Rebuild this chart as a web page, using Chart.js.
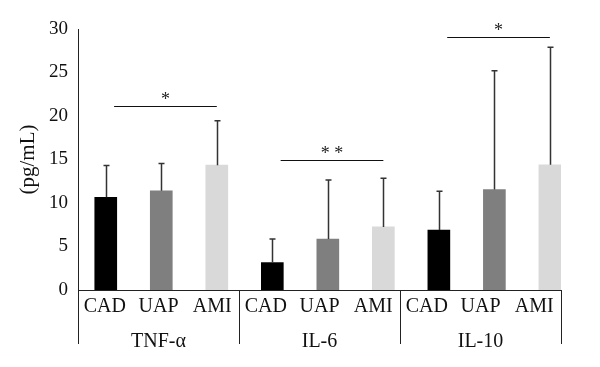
<!DOCTYPE html>
<html>
<head>
<meta charset="utf-8">
<script src="https://cdn.jsdelivr.net/npm/chart.js@4"></script>
<style>
  html, body { margin: 0; padding: 0; background: #fff; }
</style>
</head>
<body>
<canvas id="cytoChart" width="600" height="367"></canvas>
<script>
// DATA
const groups = ['TNF-α', 'IL-6', 'IL-10'];
const subgroups = ['CAD', 'UAP', 'AMI'];
const cadMean = [10.65, 3.15, 6.9];
const uapMean = [11.4, 5.85, 11.55];
const amiMean = [14.35, 7.25, 14.4];
const cadSd = [3.65, 2.7, 4.45];
const uapSd = [3.15, 6.8, 13.65];
const amiSd = [5.1, 5.6, 13.5];
const yTicks = [0, 5, 10, 15, 20, 25, 30];
// significance brackets: from / to bar index, height, label
const sigFrom = [0, 3, 6];
const sigTo = [2, 5, 8];
const sigY = [21.15, 14.9, 29.1];
const sigText = ['*', '* *', '*'];

const barColors = ['#000000', '#7f7f7f', '#d9d9d9'];
const serif = '"Liberation Serif", "DejaVu Serif", serif';

// 9 tick labels, group name under the middle bar
const tickLabels = [];
groups.forEach(g => subgroups.forEach((s, k) => tickLabels.push([s, k === 1 ? g : ''])));

const means = [cadMean, uapMean, amiMean];
const sds = [cadSd, uapSd, amiSd];
const datasets = subgroups.map((s, k) => ({
    label: s,
    data: groups.map((g, gi) => ({ x: gi * 3 + k, y: means[k][gi] })),
    sd: sds[k],
    backgroundColor: barColors[k],
    xAxisID: 'xb',
    barThickness: 22,
    grouped: false
}));

// error bars, brackets, group dividers
const extras = {
    id: 'extras',
    afterDatasetsDraw(chart) {
        const c = chart.ctx;
        const y = chart.scales.y, xb = chart.scales.xb, x = chart.scales.x;
        c.save();
        // error bars (upper only)
        c.strokeStyle = '#333';
        c.lineWidth = 1.5;
        chart.data.datasets.forEach((ds, di) => {
            chart.getDatasetMeta(di).data.forEach((bar, i) => {
                const top = y.getPixelForValue(ds.data[i].y + ds.sd[i]);
                const bx = Math.round(bar.x) + 0.5;
                c.beginPath();
                c.moveTo(bx, bar.y);
                c.lineTo(bx, top);
                c.moveTo(bx - 3, top);
                c.lineTo(bx + 3, top);
                c.stroke();
            });
        });
        // brackets
        c.strokeStyle = '#111';
        c.lineWidth = 1.2;
        c.fillStyle = '#222';
        c.font = '18px ' + serif;
        c.textAlign = 'center';
        c.textBaseline = 'middle';
        sigFrom.forEach((f, i) => {
            const x1 = xb.getPixelForValue(f + 0.15);
            const x2 = xb.getPixelForValue(sigTo[i]);
            const py = Math.round(y.getPixelForValue(sigY[i])) + 0.5;
            c.beginPath();
            c.moveTo(x1, py);
            c.lineTo(x2, py);
            c.stroke();
            c.fillText(sigText[i], (x1 + x2) / 2, py - 6);
        });
        // group dividers below the axis
        c.strokeStyle = '#222';
        c.lineWidth = 1;
        const step = x.getPixelForValue(1) - x.getPixelForValue(0);
        for (let g = 0; g <= groups.length; g++) {
            const px = Math.round(x.getPixelForValue(g * 3) - step / 2) + 0.5;
            c.beginPath();
            c.moveTo(px, y.bottom);
            c.lineTo(px, y.bottom + 54);
            c.stroke();
        }
        c.restore();
    }
};

new Chart(document.getElementById('cytoChart').getContext('2d'), {
    type: 'bar',
    data: { labels: tickLabels, datasets },
    options: {
        responsive: false,
        animation: false,
        layout: { padding: { left: 0, right: 39, top: 29, bottom: 0 } },
        plugins: { legend: { display: false }, tooltip: { enabled: false } },
        scales: {
            x: {
                type: 'category',
                offset: true,
                grid: { display: false },
                border: { color: '#222', width: 1 },
                ticks: {
                    color: '#111',
                    font: { family: serif, size: 20, lineHeight: 1.75 },
                    padding: -9,
                    maxRotation: 0,
                    autoSkip: false
                },
                afterFit: s => { s.height = 77; }
            },
            xb: {
                type: 'linear',
                display: false,
                offset: false,
                min: -0.5,
                max: 8.2
            },
            y: {
                min: 0,
                max: 30,
                afterBuildTicks: s => { s.ticks = yTicks.map(v => ({ value: v })); },
                grid: { display: false, drawTicks: false },
                border: { color: '#222', width: 1 },
                ticks: {
                    color: '#111',
                    font: { family: serif, size: 19 },
                    padding: 10
                },
                title: {
                    display: true,
                    text: '(pg/mL)',
                    color: '#111',
                    font: { family: serif, size: 21 },
                    padding: { top: 16 }
                },
                afterFit: s => { s.width = 78; }
            }
        }
    },
    plugins: [extras]
});
</script>
</body>
</html>
